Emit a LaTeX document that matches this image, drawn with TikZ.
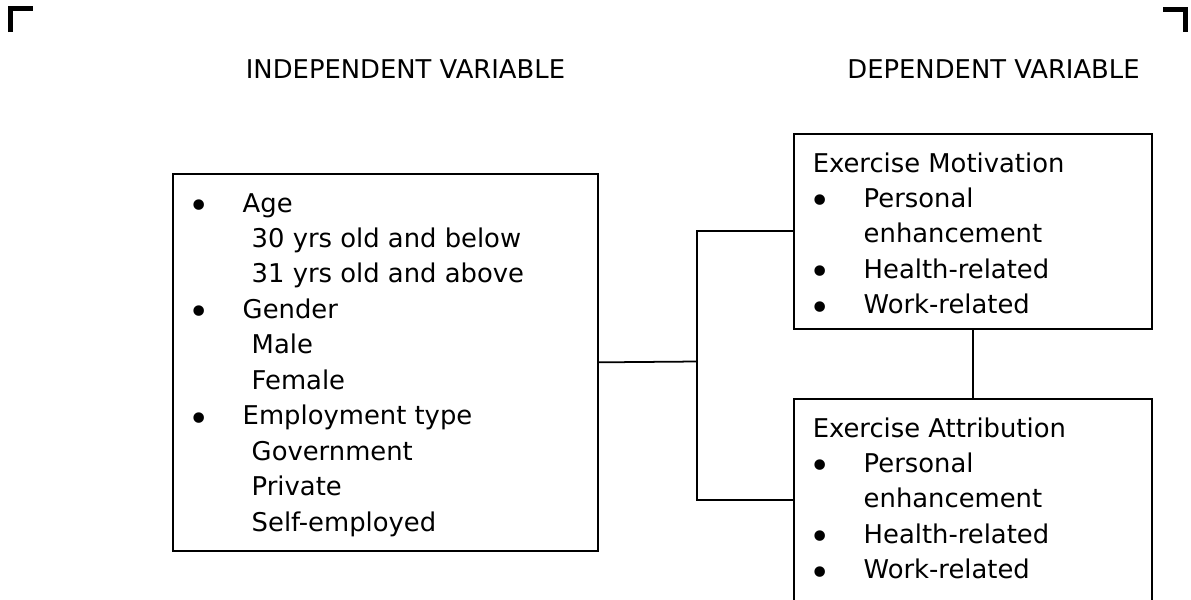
\documentclass[tikz,border=0pt]{standalone}
\usepackage{fontspec}
\setmainfont{DejaVu Sans}
\usepackage{tikz}

\newcommand{\bul}{\hspace{-0.06cm}\raisebox{-0.25em}{\scalebox{1.4}{\textbullet}}}

\tikzset{
    varbox/.style={draw, rectangle, line width=1pt, inner sep=0pt, anchor=north west},
    vartext/.style={anchor=base west, inner sep=0pt, font=\fontsize{14.7pt}{20.2pt}\selectfont},
    cropmark/.style={line width=0.1cm}
}

\begin{document}
\begin{tikzpicture}[x=0.02cm, y=-0.02cm]
    \useasboundingbox (0, 0) rectangle (1191, 599);
    \clip (0, 0) rectangle (1191, 599);

    \draw[cropmark] (10.5, 32) |- (33, 8.5);
    \draw[cropmark] (1163, 9.5) -| (1185.5, 32);

    \node[vartext] at (245.5, 78) (indephead) {INDEPENDENT VARIABLE};
    \node[vartext, anchor=base east] at (1140, 78) (dephead) {DEPENDENT VARIABLE};

    \node[varbox, minimum width=8.5cm, minimum height=7.54cm] at (172, 173) (indep) {};
    \node[varbox, minimum width=7.16cm, minimum height=3.9cm] at (793, 133) (motiv) {};
    \node[varbox, minimum width=7.16cm, minimum height=4.06cm] at (793, 398) (attrib) {};

    \node[vartext] at (191.4, 212) (indeptext) {\begin{tabular}[t]{@{}p{1.02cm}@{}l@{}}
        \bul & Age\\
        & \hspace{0.18cm}30 yrs old and below\\
        & \hspace{0.18cm}31 yrs old and above\\
        \bul & Gender\\
        & \hspace{0.18cm}Male\\
        & \hspace{0.18cm}Female\\
        \bul & Employment type\\
        & \hspace{0.18cm}Government\\
        & \hspace{0.18cm}Private\\
        & \hspace{0.18cm}Self-employed
    \end{tabular}};
    \node[vartext] at (812.4, 172) (motivtext) {\begin{tabular}[t]{@{}p{1.02cm}@{}l@{}}
        \multicolumn{2}{@{}l@{}}{Exercise Motivation}\\
        \bul & Personal\\
        & enhancement\\
        \bul & Health-related\\
        \bul & Work-related
    \end{tabular}};
    \node[vartext] at (812.4, 437) (attribtext) {\begin{tabular}[t]{@{}p{1.02cm}@{}l@{}}
        \multicolumn{2}{@{}l@{}}{Exercise Attribution}\\
        \bul & Personal\\
        & enhancement\\
        \bul & Health-related\\
        \bul & Work-related
    \end{tabular}};

    \draw[line width=1pt] (indep.east) -- (697, 361.5) coordinate (fork);
    \draw[line width=1pt] (motiv.west) -| (fork) |- (attrib.west);
    \draw[line width=1pt] (motiv.south) -- (attrib.north);
\end{tikzpicture}
\end{document}
